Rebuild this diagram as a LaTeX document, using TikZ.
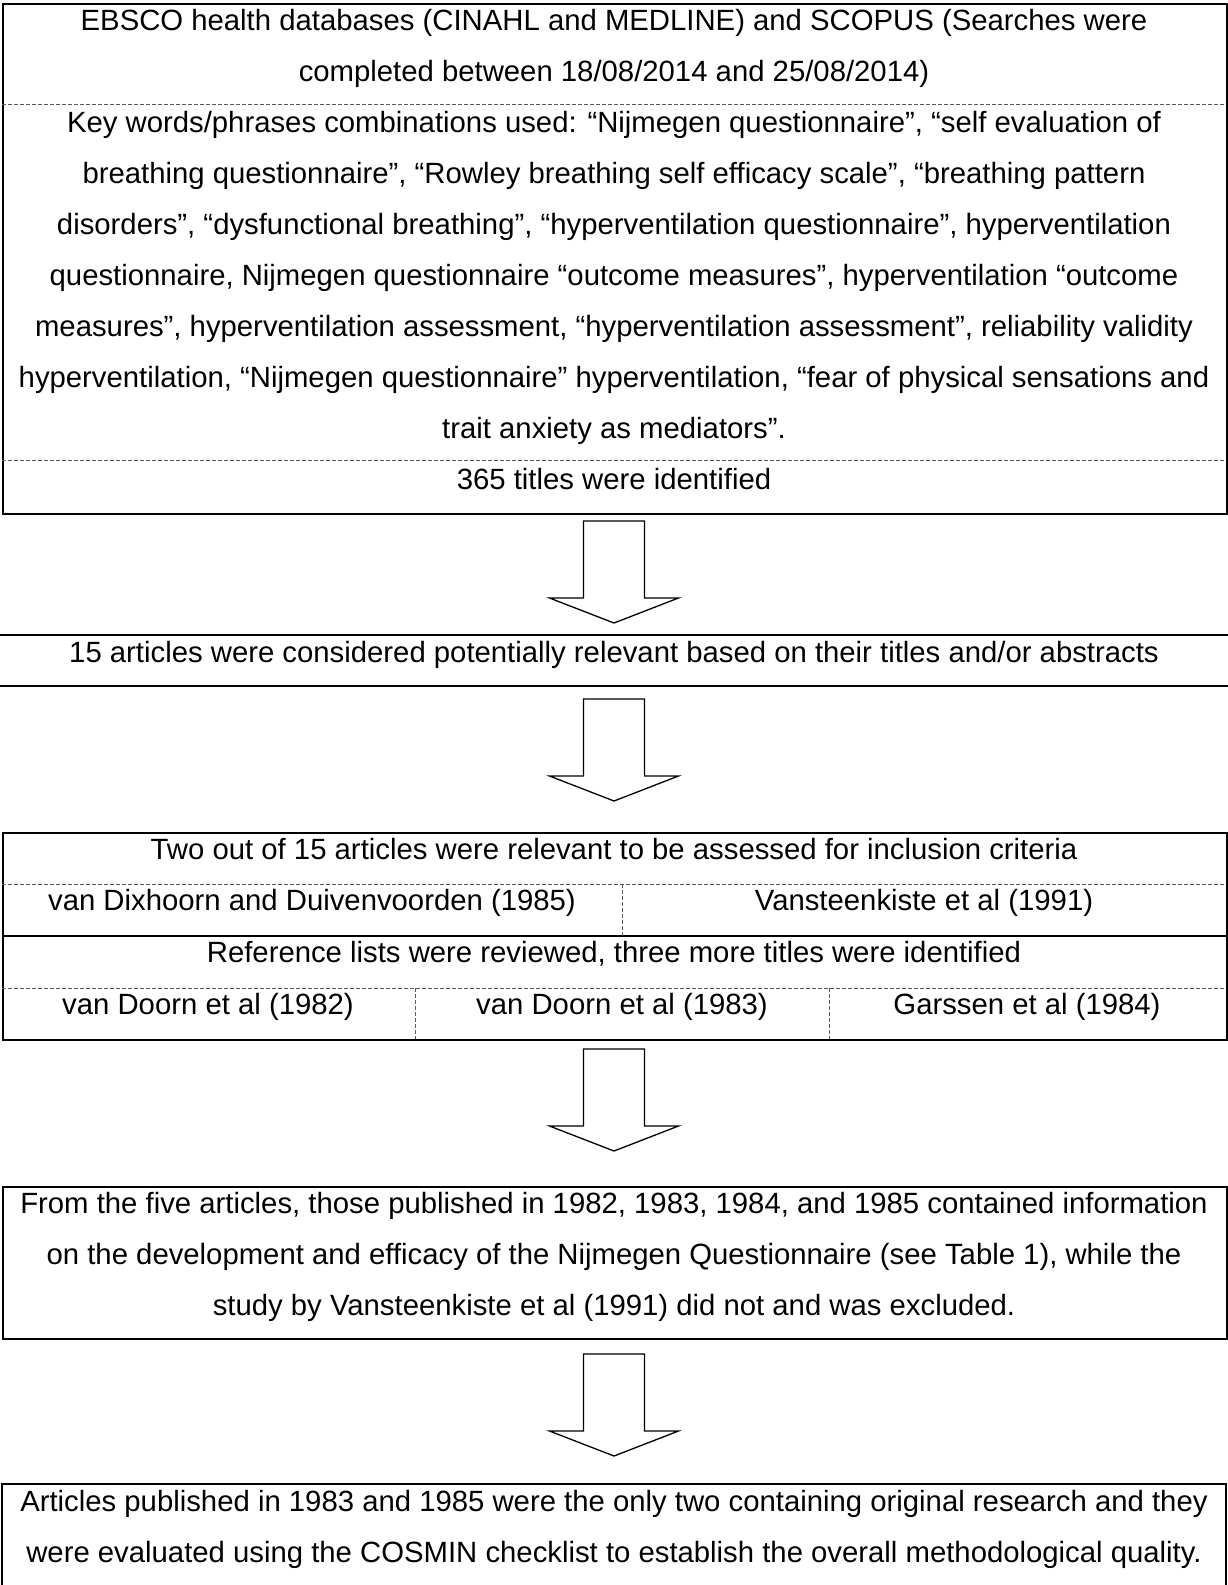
\documentclass[tikz,border=0pt]{standalone}
\usepackage{fontspec}
\setmainfont{Liberation Sans}
\begin{document}
\begin{tikzpicture}[x=1pt,y=-1pt,
  border/.style={line width=2pt, draw=black},
  boxnode/.style={border, inner sep=0pt, anchor=north west},
  sepline/.style={line width=1pt, draw=black!65, dash pattern=on 4pt off 2pt},
  txt/.style={anchor=base, inner sep=0pt, font=\fontsize{29.3}{35}\selectfont},
  blockarrow/.style={line width=1.3pt, draw=black, fill=white, line join=miter}]
\useasboundingbox[fill=white] (0,0) rectangle (1228,1585);

% ---------- Box 1 ----------
\node[boxnode, minimum width=1224pt, minimum height=510pt] (b1) at (2,3) {};
\draw[sepline] (2,104) -- (1226,104);
\draw[sepline] (2,460) -- (1226,460);
\node[txt] (t1) at (614,30) {EBSCO health databases (CINAHL and MEDLINE) and SCOPUS (Searches were};
\node[txt] (t2) at (614,81) {completed between 18/08/2014 and 25/08/2014)};
\node[txt] (k1) at (614,132) {Key words/phrases combinations used: “Nijmegen questionnaire”, “self evaluation of};
\node[txt] (k2) at (614,183) {breathing questionnaire”, “Rowley breathing self efficacy scale”, “breathing pattern};
\node[txt] (k3) at (614,234) {disorders”, “dysfunctional breathing”, “hyperventilation questionnaire”, hyperventilation};
\node[txt] (k4) at (614,285) {questionnaire, Nijmegen questionnaire “outcome measures”, hyperventilation “outcome};
\node[txt] (k5) at (614,336) {measures”, hyperventilation assessment, “hyperventilation assessment”, reliability validity};
\node[txt] (k6) at (614,387) {hyperventilation, “Nijmegen questionnaire” hyperventilation, “fear of physical sensations and};
\node[txt] (k7) at (614,438) {trait anxiety as mediators”.};
\node[txt] (t3) at (614,489) {365 titles were identified};

% ---------- Arrow 1 ----------
\coordinate (a1) at (614,521);
\draw[blockarrow] (a1) ++(-30.5,0) -- ++(61,0) -- ++(0,77) -- ++(34,0) -- ++(-64.5,25) -- ++(-64.5,-25) -- ++(34,0) -- cycle;

% ---------- Box 2 ----------
\coordinate (b2tl) at (0,635);
\coordinate (b2tr) at (1228,635);
\coordinate (b2bl) at (0,686);
\coordinate (b2br) at (1228,686);
\draw[border] (b2tl) -- (b2tr);
\draw[border] (b2bl) -- (b2br);
\node[txt] (s2) at (614,662) {15 articles were considered potentially relevant based on their titles and/or abstracts};

% ---------- Arrow 2 ----------
\coordinate (a2) at (614,699);
\draw[blockarrow] (a2) ++(-30.5,0) -- ++(61,0) -- ++(0,77) -- ++(34,0) -- ++(-64.5,25) -- ++(-64.5,-25) -- ++(34,0) -- cycle;

% ---------- Box 3 ----------
\node[boxnode, minimum width=1224pt, minimum height=207pt] (b3) at (2,832) {};
\draw[sepline] (2,884) -- (1226,884);
\draw[border] (2,936) -- (1226,936);
\draw[sepline] (2,988) -- (1226,988);
\draw[sepline] (622,884) -- (622,936);
\draw[sepline] (415,988) -- (415,1039);
\draw[sepline] (829,988) -- (829,1039);
\node[txt] (r1) at (614,859) {Two out of 15 articles were relevant to be assessed for inclusion criteria};
\node[txt] (r2a) at (312,910) {van Dixhoorn and Duivenvoorden (1985)};
\node[txt] (r2b) at (924,910) {Vansteenkiste et al (1991)};
\node[txt] (r3) at (614,962) {Reference lists were reviewed, three more titles were identified};
\node[txt] (r4a) at (208,1014) {van Doorn et al (1982)};
\node[txt] (r4b) at (622,1014) {van Doorn et al (1983)};
\node[txt] (r4c) at (1027,1014) {Garssen et al (1984)};

% ---------- Arrow 3 ----------
\coordinate (a3) at (614,1049);
\draw[blockarrow] (a3) ++(-30.5,0) -- ++(61,0) -- ++(0,77) -- ++(34,0) -- ++(-64.5,25) -- ++(-64.5,-25) -- ++(34,0) -- cycle;

% ---------- Box 4 ----------
\node[boxnode, minimum width=1224pt, minimum height=152pt] (b4) at (2,1186) {};
\node[txt] (f1) at (614,1213) {From the five articles, those published in 1982, 1983, 1984, and 1985 contained information};
\node[txt] (f2) at (614,1264) {on the development and efficacy of the Nijmegen Questionnaire (see Table 1), while the};
\node[txt] (f3) at (614,1315) {study by Vansteenkiste et al (1991) did not and was excluded.};

% ---------- Arrow 4 ----------
\coordinate (a4) at (614,1354);
\draw[blockarrow] (a4) ++(-30.5,0) -- ++(61,0) -- ++(0,77) -- ++(34,0) -- ++(-64.5,25) -- ++(-64.5,-25) -- ++(34,0) -- cycle;

% ---------- Box 5 (runs off the page) ----------
\coordinate (b5bl) at (2,1590);
\coordinate (b5br) at (1226,1590);
\draw[border] (b5bl) -- (2,1484) -- (1226,1484) -- (b5br);
\node[txt] (g1) at (614,1511) {Articles published in 1983 and 1985 were the only two containing original research and they};
\node[txt] (g2) at (614,1562) {were evaluated using the COSMIN checklist to establish the overall methodological quality.};
\end{tikzpicture}
\end{document}
